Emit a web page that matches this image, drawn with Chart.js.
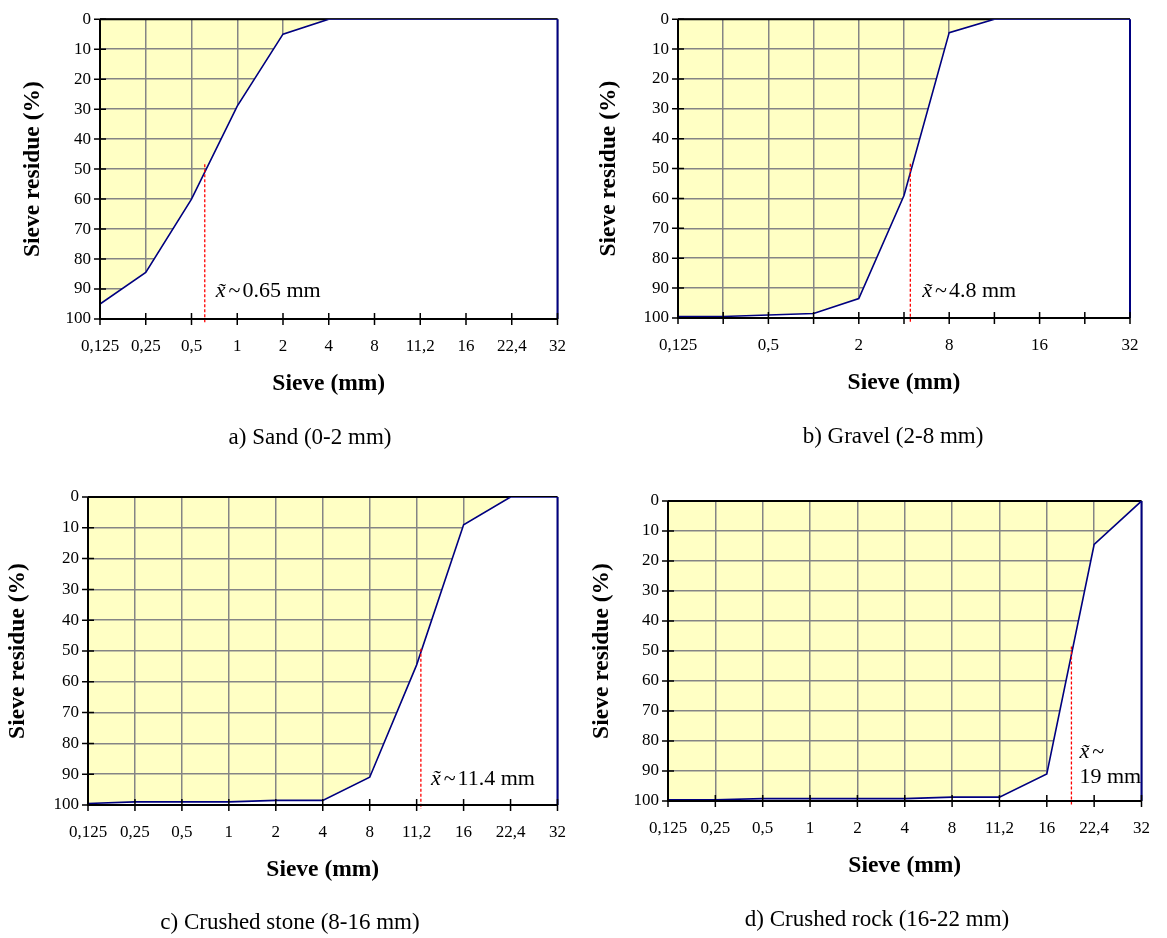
<!DOCTYPE html>
<html>
<head>
<meta charset="utf-8">
<title>Sieve residue curves</title>
<script src="https://cdn.jsdelivr.net/npm/chart.js@4.4.1/dist/chart.umd.min.js"></script>
<style>
  body { margin: 0; background: #fff; }
  #page { position: relative; width: 1167px; height: 938px; overflow: hidden; }
  canvas { position: absolute; }
  .caption {
    position: absolute;
    font-family: 'Liberation Serif', 'Times New Roman', serif;
    font-size: 23px;
    color: #000;
    white-space: nowrap;
    transform: translate(-50%, -50%);
  }
</style>
</head>
<body>
<div id="page">
  <canvas id="sand"></canvas>
  <canvas id="gravel"></canvas>
  <canvas id="stone"></canvas>
  <canvas id="rock"></canvas>
</div>
<script>
// sieve sizes (category axis) and residue on each sieve in %
const sieveLabels = ['0,125', '0,25', '0,5', '1', '2', '4', '8', '11,2', '16', '22,4', '32'];
const sandResidue = [95, 84.5, 60, 29, 5, 0, 0, 0, 0, 0, 0];
const gravelResidue = [99.5, 99.5, 99, 98.5, 93.5, 59, 4.5, 0, 0, 0, 0];
const stoneResidue = [99.5, 99, 99, 99, 98.5, 98.5, 91, 54.5, 9, 0, 0];
const rockResidue = [99.6, 99.6, 99.2, 99.2, 99.2, 99.2, 98.7, 98.7, 91, 14.5, 0];

// median grain size: position between sieve indices, top of the marker, label
const medianPos = [2.29, 5.14, 7.09, 8.52];
const medianTop = [48.4, 48.4, 49.3, 48.5];
const medianText = ['0.65 mm', '4.8 mm', '11.4 mm', '19 mm'];

const captions = ['a) Sand (0-2 mm)', 'b) Gravel (2-8 mm)', 'c) Crushed stone (8-16 mm)', 'd) Crushed rock (16-22 mm)'];

const serif = "'Liberation Serif', 'Times New Roman', serif";
const X_AXIS_HEIGHT = 100;
const TITLE_SIZE = 23.5;

// page layout of the four panels
const panels = [
  { id: 'sand', residue: sandResidue, box: [0, 0, 583, 469], plot: { l: 100, r: 565, t: 17, b: 319 },
    labelStep: 1, yTitleX: 33, note: { dx: 11, y: 90.8 }, cap: { x: 310, y: 437 } },
  { id: 'gravel', residue: gravelResidue, box: [583, 0, 584, 469], plot: { l: 678, r: 1130, t: 15, b: 318 },
    labelStep: 2, yTitleX: 609, note: { dx: 12, y: 91 }, cap: { x: 893, y: 436 } },
  { id: 'stone', residue: stoneResidue, box: [0, 469, 583, 469], plot: { l: 88, r: 567, t: 497, b: 805 },
    labelStep: 1, yTitleX: 18, note: { dx: 10, y: 91.5 }, cap: { x: 290, y: 922 } },
  { id: 'rock', residue: rockResidue, box: [583, 469, 584, 469], plot: { l: 668, r: 1152, t: 501, b: 801 },
    labelStep: 1, yTitleX: 602, note: { dx: 8, y: 83.7, wrap: true }, cap: { x: 877, y: 919 } }
];

function decorPlugin(p, idx) {
  return {
    id: 'sieveDecor',
    beforeDraw(chart) {
      const { ctx, chartArea: a } = chart;
      ctx.save();
      ctx.fillStyle = '#ffffc4';
      ctx.fillRect(a.left, a.top, a.right - a.left, a.bottom - a.top);
      ctx.restore();
    },
    beforeDatasetsDraw(chart) {
      const { ctx, chartArea: a } = chart;
      ctx.save();
      ctx.strokeStyle = '#000';
      ctx.lineWidth = 2;
      ctx.beginPath();
      ctx.moveTo(a.left, a.top);
      ctx.lineTo(a.right, a.top);
      ctx.stroke();
      ctx.restore();
    },
    afterDatasetsDraw(chart) {
      const { ctx, chartArea: a, scales: { x, y } } = chart;
      const last = p.residue.length - 1;
      ctx.save();

      // closing edge of the area at the last sieve
      const lastX = x.getPixelForValue(last);
      ctx.strokeStyle = '#000080';
      ctx.lineWidth = 2;
      ctx.beginPath();
      ctx.moveTo(lastX, y.getPixelForValue(p.residue[last]));
      ctx.lineTo(lastX, a.bottom);
      ctx.stroke();

      // axes with crossing tick marks
      ctx.strokeStyle = '#000';
      ctx.lineWidth = 2;
      ctx.beginPath();
      ctx.moveTo(a.left, a.top);
      ctx.lineTo(a.left, a.bottom);
      ctx.lineTo(a.right, a.bottom);
      ctx.stroke();
      ctx.lineWidth = 1.5;
      ctx.beginPath();
      y.ticks.forEach(t => {
        const py = y.getPixelForValue(t.value);
        ctx.moveTo(a.left - 6, py);
        ctx.lineTo(a.left + 6, py);
      });
      x.ticks.forEach(t => {
        const px = x.getPixelForValue(t.value);
        ctx.moveTo(px, a.bottom - 6);
        ctx.lineTo(px, a.bottom + 6);
      });
      ctx.stroke();

      // median label
      const nx = x.getPixelForValue(medianPos[idx]) + p.note.dx;
      const ny = y.getPixelForValue(p.note.y);
      ctx.fillStyle = '#000';
      ctx.textBaseline = 'middle';
      ctx.textAlign = 'left';
      ctx.font = 'italic 22px ' + serif;
      ctx.fillText('x\u0303', nx, ny);
      const w = ctx.measureText('x\u0303').width;
      ctx.font = '22px ' + serif;
      const tw = ctx.measureText('~').width;
      ctx.fillText('~', nx + w + 3, ny);
      if (p.note.wrap) {
        ctx.fillText(medianText[idx], nx, ny + 25);
      } else {
        ctx.fillText(medianText[idx], nx + w + tw + 5, ny);
      }
      ctx.restore();
    }
  };
}

panels.forEach((p, idx) => {
  const [bx, by, bw, bh] = p.box;
  const canvas = document.getElementById(p.id);
  canvas.width = bw;
  canvas.height = bh;
  canvas.style.left = bx + 'px';
  canvas.style.top = by + 'px';
  canvas.style.width = bw + 'px';
  canvas.style.height = bh + 'px';

  const yWidth = p.plot.l - bx;
  const titleLine = TITLE_SIZE * 1.2;

  new Chart(canvas, {
    type: 'line',
    data: {
      datasets: [
        {
          data: p.residue.map((v, i) => ({ x: i, y: v })),
          borderColor: '#000080',
          borderWidth: 1.6,
          backgroundColor: '#ffffff',
          fill: { value: 100 },
          pointRadius: 0,
          tension: 0,
          order: 1
        },
        {
          data: [{ x: medianPos[idx], y: medianTop[idx] }, { x: medianPos[idx], y: 101.3 }],
          borderColor: '#ff0000',
          borderWidth: 1.3,
          borderDash: [3, 2],
          fill: false,
          pointRadius: 0,
          clip: false,
          order: 0
        }
      ]
    },
    options: {
      responsive: false,
      animation: false,
      layout: {
        padding: {
          left: 0,
          top: p.plot.t - by,
          right: bx + bw - p.plot.r,
          bottom: by + bh - p.plot.b - X_AXIS_HEIGHT
        }
      },
      plugins: { legend: { display: false }, tooltip: { enabled: false } },
      scales: {
        x: {
          type: 'linear',
          min: 0,
          max: sieveLabels.length - 1,
          afterFit: s => { s.height = X_AXIS_HEIGHT; },
          grid: { color: '#858585', lineWidth: 1.5, drawTicks: false },
          border: { display: false },
          ticks: {
            stepSize: 1,
            autoSkip: false,
            maxRotation: 0,
            padding: 17,
            color: '#000',
            font: { family: serif, size: 17 },
            callback: v => (v % p.labelStep === 0 ? sieveLabels[v] : '')
          },
          title: {
            display: true,
            text: 'Sieve (mm)',
            color: '#000',
            font: { family: serif, size: TITLE_SIZE, weight: 'bold' },
            padding: { top: 0, bottom: X_AXIS_HEIGHT - 65 - titleLine / 2 }
          }
        },
        y: {
          reverse: true,
          min: 0,
          max: 100,
          afterFit: s => { s.width = yWidth; },
          grid: { color: '#858585', lineWidth: 1.5, drawTicks: false },
          border: { display: false },
          ticks: {
            stepSize: 10,
            padding: 9,
            color: '#000',
            font: { family: serif, size: 17 }
          },
          title: {
            display: true,
            text: 'Sieve residue (%)',
            color: '#000',
            font: { family: serif, size: TITLE_SIZE, weight: 'bold' },
            padding: { top: p.yTitleX - bx - titleLine / 2, bottom: 0 }
          }
        }
      }
    },
    plugins: [decorPlugin(p, idx)]
  });

  const cap = document.createElement('div');
  cap.className = 'caption';
  cap.textContent = captions[idx];
  cap.style.left = p.cap.x + 'px';
  cap.style.top = p.cap.y + 'px';
  document.getElementById('page').appendChild(cap);
});
</script>
</body>
</html>
